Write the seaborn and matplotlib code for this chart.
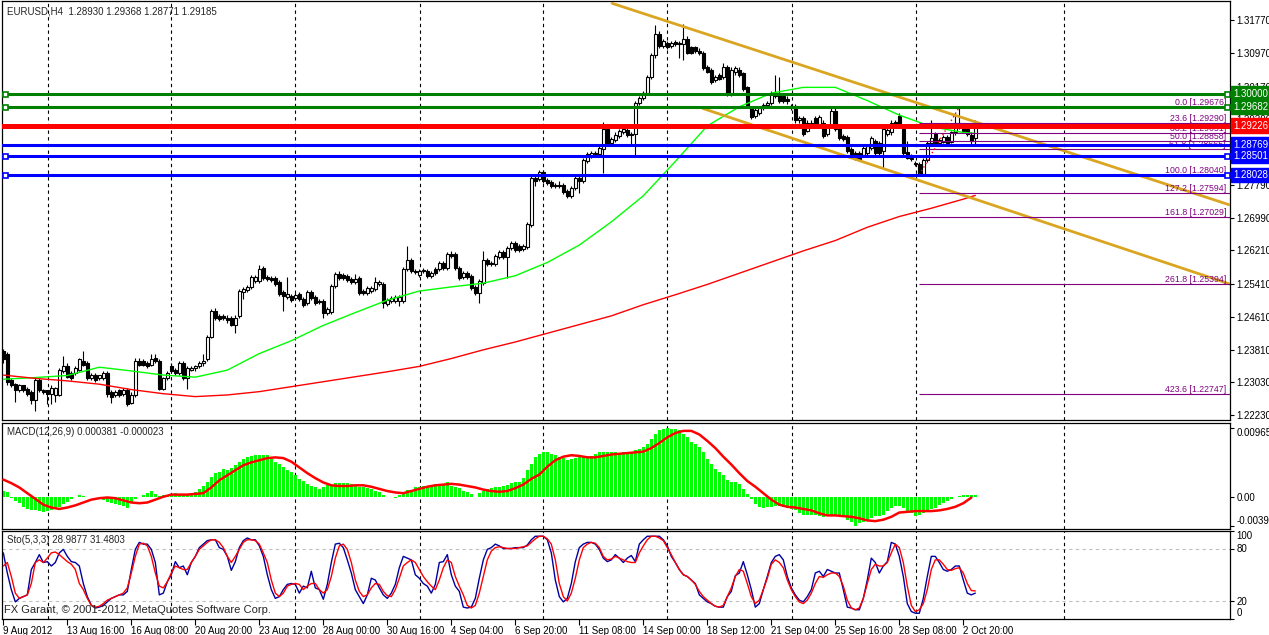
import matplotlib
matplotlib.use("Agg")
import matplotlib.pyplot as plt
import matplotlib.transforms as mtransforms
import numpy as np
import pandas as pd
import seaborn as sns

# ── EURUSD H4 candles, in pips above 1.2000 (price = 1.2 + v / 10000) ────────
opens = [
    377, 370, 307, 299, 285, 295, 287, 278, 261, 307,
    285, 283, 275, 273, 273, 331, 343, 324, 324, 333,
    355, 348, 312, 321, 312, 314, 324, 278, 273, 283,
    275, 285, 253, 273, 355, 353, 348, 345, 362, 353,
    287, 312, 343, 333, 324, 348, 312, 333, 336, 343,
    348, 358, 413, 474, 462, 462, 459, 457, 442, 462,
    520, 525, 532, 547, 547, 578, 556, 554, 554, 544,
    520, 508, 510, 505, 515, 503, 493, 520, 508, 498,
    498, 469, 472, 535, 564, 561, 559, 552, 544, 554,
    522, 518, 522, 527, 539, 539, 491, 498, 498, 498,
    498, 576, 598, 571, 561, 571, 571, 559, 576, 576,
    590, 578, 612, 612, 578, 556, 566, 559, 532, 518,
    542, 598, 590, 588, 605, 617, 605, 627, 639, 632,
    624, 629, 682, 796, 794, 811, 792, 787, 779, 779,
    779, 765, 753, 772, 796, 789, 838, 850, 855, 855,
    867, 915, 881, 889, 898, 908, 913, 903, 903, 978,
    990, 1002, 1041, 1092, 1145, 1114, 1121, 1114, 1124, 1121,
    1119, 1133, 1112, 1112, 1104, 1097, 1063, 1056, 1032, 1044,
    1039, 1063, 1000, 1051, 1058, 1049, 1015, 964, 947, 954,
    966, 973, 978, 995, 1002, 993, 988, 971, 971, 935,
    942, 910, 925, 942, 927, 930, 903, 922, 959, 922,
    898, 896, 867, 857, 857, 852, 857, 869, 886, 881,
    862, 903, 906, 932, 947, 915, 859, 845, 833, 830,
    806, 840, 881, 903, 881, 884, 896, 884, 906, 920,
    922, 915, 901, 893.0,
]
highs = [
    384, 375, 312, 302, 299, 297, 292, 283, 312, 312,
    287, 285, 295, 292, 338, 365, 348, 329, 341, 362,
    377, 353, 326, 324, 321, 329, 329, 283, 285, 287,
    290, 290, 278, 362, 362, 358, 353, 372, 370, 358,
    316, 329, 348, 338, 353, 353, 341, 343, 345, 353,
    372, 418, 479, 481, 467, 467, 464, 462, 464, 527,
    532, 537, 561, 561, 585, 583, 561, 559, 559, 549,
    525, 556, 515, 518, 520, 508, 525, 525, 513, 503,
    503, 484, 539, 568, 571, 566, 564, 556, 564, 559,
    527, 535, 535, 556, 549, 544, 505, 510, 513, 513,
    581, 632, 602, 576, 576, 578, 576, 571, 581, 595,
    595, 617, 619, 617, 583, 571, 571, 564, 537, 552,
    619, 602, 595, 612, 622, 622, 632, 644, 644, 636,
    636, 690, 801, 801, 816, 816, 796, 792, 784, 789,
    784, 770, 777, 801, 801, 845, 859, 862, 862, 874,
    932, 920, 896, 906, 915, 922, 922, 908, 983, 995,
    1007, 1046, 1097, 1165, 1150, 1131, 1126, 1126, 1129, 1126,
    1167, 1138, 1116, 1116, 1109, 1102, 1068, 1061, 1044, 1049,
    1075, 1068, 1063, 1066, 1063, 1053, 1019, 969, 966, 969,
    978, 983, 1005, 1044, 1039, 998, 993, 976, 976, 947,
    947, 935, 935, 947, 949, 935, 927, 964, 964, 927,
    903, 901, 872, 862, 862, 874, 879, 898, 891, 886,
    920, 918, 935, 937, 954, 920, 886, 855, 838, 835,
    845, 886, 935, 908, 893, 901, 901, 910, 952, 967.6,
    927, 920, 906, 936.8,
]
lows = [
    348, 297, 292, 256, 280, 280, 270, 251, 234, 280,
    275, 251, 251, 256, 270, 326, 312, 309, 319, 329,
    341, 307, 307, 304, 307, 309, 268, 253, 268, 268,
    270, 246, 249, 268, 341, 341, 338, 341, 348, 283,
    283, 307, 326, 319, 319, 307, 287, 329, 331, 338,
    343, 353, 409, 452, 450, 452, 447, 438, 421, 457,
    503, 520, 527, 542, 542, 549, 547, 544, 535, 510,
    474, 503, 496, 501, 498, 484, 489, 501, 489, 491,
    457, 464, 467, 530, 549, 549, 544, 539, 539, 513,
    513, 513, 518, 522, 535, 481, 486, 493, 493, 486,
    493, 571, 566, 564, 556, 566, 554, 554, 561, 571,
    573, 573, 602, 573, 549, 552, 552, 525, 513, 493,
    537, 583, 583, 583, 600, 600, 554, 622, 617, 617,
    619, 624, 678, 777, 789, 784, 779, 772, 772, 772,
    758, 748, 748, 767, 760, 784, 833, 845, 850, 850,
    809, 876, 876, 884, 893, 903, 896, 879, 850, 973,
    985, 998, 1036, 1087, 1109, 1109, 1107, 1109, 1114, 1087,
    1080, 1095, 1095, 1097, 1092, 1056, 1049, 1022, 1027, 1032,
    1034, 995, 995, 1046, 1039, 1007, 966, 939, 942, 949,
    961, 969, 973, 990, 978, 978, 976, 961, 930, 930,
    898, 906, 920, 925, 922, 893, 898, 918, 910, 889,
    886, 857, 850, 840, 838, 847, 852, 864, 852, 852,
    821, 898, 901, 920, 918, 852, 842, 838, 825, 804,
    806, 835, 876, 876, 876, 881, 876, 881, 901, 915,
    906, 898, 874, 877.1,
]
closes = [
    358, 304, 297, 283, 295, 285, 275, 261, 307, 285,
    278, 275, 290, 290, 333, 343, 316, 314, 336, 358,
    345, 312, 321, 309, 319, 324, 275, 266, 280, 273,
    285, 251, 273, 353, 345, 345, 343, 360, 353, 287,
    312, 324, 331, 324, 348, 312, 336, 338, 341, 348,
    355, 413, 474, 457, 455, 457, 452, 442, 459, 522,
    527, 532, 556, 556, 576, 554, 552, 549, 539, 515,
    510, 515, 501, 513, 503, 489, 520, 505, 493, 496,
    469, 479, 535, 564, 554, 554, 549, 544, 552, 518,
    518, 530, 530, 544, 544, 493, 501, 505, 508, 508,
    576, 598, 571, 568, 571, 573, 559, 566, 566, 590,
    578, 612, 607, 578, 554, 566, 556, 530, 518, 547,
    598, 588, 588, 607, 617, 605, 627, 639, 622, 622,
    632, 685, 796, 789, 811, 789, 784, 777, 777, 777,
    762, 753, 772, 796, 789, 840, 855, 857, 857, 869,
    915, 881, 891, 901, 910, 915, 901, 901, 978, 990,
    1002, 1041, 1092, 1145, 1114, 1126, 1112, 1121, 1119, 1119,
    1133, 1099, 1099, 1102, 1097, 1061, 1053, 1027, 1039, 1036,
    1063, 1000, 1058, 1061, 1044, 1012, 971, 944, 961, 964,
    973, 978, 1000, 1002, 983, 983, 981, 966, 935, 942,
    903, 930, 930, 930, 944, 898, 922, 959, 915, 893,
    891, 862, 855, 845, 842, 869, 874, 893, 857, 857,
    915, 913, 930, 925, 922, 857, 845, 842, 830, 806,
    840, 881, 893, 881, 889, 896, 881, 906, 930, 930,
    910, 903, 886, 918.5,
]

# moving averages read every 8 bars (pips above 1.2000)
ma_bars = list(range(0, 241, 8)) + [243]
ma_green = [310, 314, 319, 339, 330, 320, 315, 332, 372, 403, 440, 471, 501, 523, 533, 542,
            560, 592, 634, 690, 753, 836, 922, 968, 1001, 1015, 1015, 983, 948, 920, 906, 904]
ma_red = [320, 312, 306, 298, 285, 275, 268, 272, 280, 292, 304, 316, 328, 341, 360, 381,
          400, 421, 442, 463, 490, 514, 539, 566, 593, 620, 645, 677, 703, 723, 745, 754]

# descending channel (bar, pips above 1.2000)
upper_trend_bars = [152.2, 306.6]
upper_trend_pips = [1218, 731]
lower_trend_bars = [174.9, 306.6]
lower_trend_pips = [964, 540]

# horizontal line objects
hline_prices = [1.30000, 1.29682, 1.29226, 1.28769, 1.28501, 1.28028]
hline_colors = ["#008000", "#008000", "#FF0000", "#0000FF", "#0000FF", "#0000FF"]
hline_widths = [2.2, 2.2, 3.6, 2.2, 2.2, 2.2]
hline_marked = [True, True, False, False, True, True]

# fibonacci retracement
fib_levels = [0.0, 23.6, 38.2, 50.0, 61.8, 100.0, 127.2, 161.8, 261.8, 423.6]
fib_prices = [1.29676, 1.29290, 1.29051, 1.28858, 1.28665, 1.28040, 1.27594, 1.27029, 1.25394, 1.22747]
fib_anchor_bars = [229, 239]

price_ticks = [1.31770, 1.30970, 1.30170, 1.29390, 1.28590, 1.27790, 1.26990,
               1.26210, 1.25410, 1.24610, 1.23810, 1.23030, 1.22230]
hidden_price_ticks = [1.28590]  # covered by the line labels in the terminal

date_ticks = list(range(0, 241, 16))
date_labels = ["9 Aug 2012", "13 Aug 16:00", "16 Aug 08:00", "20 Aug 20:00", "23 Aug 12:00",
               "28 Aug 00:00", "30 Aug 16:00", "4 Sep 04:00", "6 Sep 20:00", "11 Sep 08:00",
               "14 Sep 00:00", "18 Sep 12:00", "21 Sep 04:00", "25 Sep 16:00", "28 Sep 08:00",
               "2 Oct 20:00"]
grid_bars = [11.1, 42.0, 73.0, 104.2, 134.9, 166.0, 197.2, 228.1, 265.2]

# MACD(12,26,9), units of 1e-4
macd_hist = [
    9, 7, -1, -5, -8, -13, -16, -17, -18, -19, -20, -19, -17, -16, -13, -9, -6, -2, 0, 3,
    2, 1, 1, 0, -1, -4, -6, -8, -9, -11, -12, -14, -8, -2, 1, 3, 6, 9, 5, 2,
    3, 3, 4, 6, 5, 5, 5, 6, 8, 12, 16,
    21, 29, 34, 36, 40, 38, 41, 45, 49, 54, 56, 58, 59, 60, 60, 59, 54, 49, 47, 42,
    39, 35, 31, 26, 23, 19, 16, 15, 12, 15, 17, 16, 20, 20, 20, 20, 19, 17, 15, 14,
    13, 12, 9, 7, 4, 1, 0, -1, 3, 8, 10,
    11, 14, 15, 16, 16, 17, 19, 19, 18, 21, 16, 14, 13, 9, 8, 5, 1, 6, 9, 12,
    13, 14, 15, 16, 18, 20, 21, 22, 27, 38, 47, 56, 61, 63, 63, 61, 59, 56, 55, 53,
    54, 55, 56, 56, 58, 58, 61, 63, 63, 63, 63, 63, 62, 63, 63,
    63, 66, 68, 71, 74, 81, 89, 94, 96, 96.5, 96, 95, 94, 88, 85, 78, 74, 71, 63, 54,
    47, 40, 35, 31, 25, 22, 21, 19, 12, 5, -2, -9, -13, -14, -13, -13, -12, -12, -13, -14,
    -16, -18, -21, -24, -24, -24, -25, -26, -27, -26, -25, -26, -26, -27, -31, -34, -39.6, -35, -34, -31,
    -28, -26, -26, -24, -19, -14, -12, -12, -14, -19, -22, -26, -25, -22, -19, -16, -14, -11, -8, -5,
    -2, 0, 2, 3, 4, 3, 3.81,
]
macd_signal = [  # every 2 bars
    25, 20, 14, 6, -2, -10, -14, -16, -14, -11, -7, -3, -1, 0, -1, -4, -7, -8, -7, -3,
    1, 4, 4, 4, 5, 6, 14, 24, 31, 38, 45, 49, 52, 55, 56, 55, 50, 42, 34, 27,
    21, 17, 16, 16, 17, 17, 15, 12, 9, 7, 6, 9, 12, 15, 17, 18, 19, 18, 16, 14,
    11, 9, 8, 9, 13, 18, 26, 32, 43, 52, 57, 59, 58, 56, 56, 58, 60, 61, 62, 63,
    64, 69, 76, 84, 90, 93, 93, 88, 79, 69, 57, 46, 34, 23, 15, 6, -3, -10, -13, -14,
    -16, -18, -22, -25, -25, -26, -27, -29, -32, -33, -31, -27, -21, -20, -19, -19, -19, -18, -16, -13,
    -8, -0.2,
]

# Stochastic(5,3,3)
sto_k = [
    75, 52, 33, 19, 23, 25, 27, 56, 64, 73, 64, 65, 60, 64, 75, 79, 71, 65, 64, 60,
    40, 25, 15, 12, 13, 15, 19, 23, 25, 27, 27, 31, 56, 79, 87, 85, 85, 79, 64, 27,
    29, 42, 50, 65, 58, 60, 50, 64, 71, 81, 85,
    89, 90, 90, 81, 79, 71, 55, 65, 81, 89, 92, 90, 90, 83, 71, 50, 33, 23, 25, 33,
    39, 40, 39, 29, 37, 35, 54, 35, 33, 22, 39, 64, 85, 86, 81, 67, 52, 33, 25, 17,
    27, 46, 44, 35, 27, 23, 29, 39, 58, 71, 69,
    67, 50, 46, 40, 37, 29, 39, 64, 65, 73, 50, 37, 31, 13, 12, 13, 23, 46, 67, 79,
    81, 85, 83, 80, 80, 80, 81, 81, 81, 84, 90, 94, 94, 94, 90, 75, 44, 25, 19, 23,
    40, 65, 81, 85, 87, 87, 85, 79, 69, 65, 67, 73, 69, 64, 69, 72,
    65, 85, 90, 94, 94, 94, 94, 90, 83, 71, 64, 56, 50, 48, 44, 40, 27, 23, 19, 17,
    14, 13, 13, 25, 31, 49, 52, 65, 50, 33, 13, 17, 33, 48, 64, 71, 73, 67, 48, 35,
    27, 21, 19, 25, 33, 52, 54, 48, 56, 54, 52, 52, 33, 13, 12, 10, 10, 23, 44, 69,
    64, 52, 60, 65, 87, 85, 71, 48, 17, 8, 6, 6, 23, 48, 71, 71, 64, 56, 54, 56,
    60, 60, 44, 29, 27, 28.99,
]
sto_d = [
    60, 64, 48, 29, 23, 25, 27, 40, 64, 67, 64, 69, 75, 76, 73, 69, 65, 62, 56, 40,
    33, 23, 15, 13, 14, 17, 21, 23, 25, 27, 29, 35, 52, 71, 85, 86, 83, 71, 52, 37,
    35, 42, 52, 60, 58, 56, 56, 64, 71, 79, 83,
    87, 90, 90, 87, 81, 71, 64, 71, 79, 87, 90, 90, 89, 85, 75, 64, 44, 29, 25, 29,
    37, 39, 40, 39, 33, 37, 40, 40, 33, 29, 33, 48, 69, 83, 85, 79, 64, 44, 31, 25,
    27, 35, 40, 39, 31, 26, 25, 33, 46, 60, 64,
    67, 64, 56, 48, 42, 37, 33, 44, 58, 67, 64, 48, 37, 27, 15, 12, 15, 29, 48, 67,
    77, 81, 82, 81, 80, 80, 80, 81, 82, 83, 87, 91, 94, 94, 91, 85, 67, 40, 25, 20,
    29, 46, 67, 81, 85, 87, 86, 81, 71, 67, 68, 71, 69, 67, 65, 64,
    64, 75, 83, 90, 94, 94, 92, 89, 81, 73, 64, 56, 50, 48, 44, 39, 31, 25, 21, 17,
    14, 13, 15, 25, 35, 48, 56, 54, 40, 25, 17, 21, 33, 46, 62, 67, 64, 58, 44, 33,
    25, 19, 17, 21, 29, 40, 48, 47, 50, 52, 52, 48, 37, 21, 12, 10, 12, 23, 40, 56,
    62, 60, 60, 64, 75, 85, 81, 64, 37, 15, 8, 10, 17, 33, 56, 67, 67, 62, 56, 55,
    57, 58, 52, 40, 32, 31.48,
]


def to_price(pips):
    return 1.2 + np.asarray(pips, dtype=float) * 1e-4


sns.set_style("white")
plt.rcParams["font.family"] = ["Liberation Sans", "DejaVu Sans"]
plt.rcParams["font.size"] = 7

W, H = 1269, 635
fig = plt.figure(figsize=(W / 100, H / 100), dpi=100)


def panel(top, bottom, left=2.0, right=1229.5):
    return fig.add_axes([left / W, 1 - bottom / H, (right - left) / W, (bottom - top) / H])


ax = panel(0.5, 420)
ax_macd = panel(422.5, 528.5)
ax_sto = panel(531, 618.5)
XLIM = (-0.33, 306.55)

bars = np.arange(len(closes))
o, hi, lo, c = (to_price(v) for v in (opens, highs, lows, closes))

# ── main price panel ────────────────────────────────────────────────────────
ax.vlines(bars, lo, hi, color="black", lw=0.8, zorder=3)
up = c >= o
body_bottom = np.minimum(o, c)
body_h = np.maximum(np.abs(c - o), 0.5e-4)
ax.bar(bars[up], body_h[up], bottom=body_bottom[up], width=0.62, color="white",
       edgecolor="black", linewidth=0.8, zorder=4)
ax.bar(bars[~up], body_h[~up], bottom=body_bottom[~up], width=0.62, color="black",
       edgecolor="black", linewidth=0.8, zorder=4)

ma = pd.DataFrame({"bar": ma_bars, "green": to_price(ma_green), "red": to_price(ma_red)})
sns.lineplot(data=ma, x="bar", y="green", color="#00FF00", lw=1, ax=ax, zorder=5)
sns.lineplot(data=ma, x="bar", y="red", color="#FF0000", lw=1, ax=ax, zorder=5)

ax.plot(upper_trend_bars, to_price(upper_trend_pips), color="#DAA520", lw=2, zorder=6)
ax.plot(lower_trend_bars, to_price(lower_trend_pips), color="#DAA520", lw=2, zorder=6)

ax.hlines(fib_prices, fib_anchor_bars[0], XLIM[1], color="#800080", lw=0.8, zorder=6)
for lvl, p in zip(fib_levels, fib_prices):
    ax.text(305.7, p, f"{lvl:.1f} [{p:.5f}]", ha="right", va="bottom", fontsize=6.3,
            color="#800080", zorder=6)
ax.plot(fib_anchor_bars, [fib_prices[5], fib_prices[0]], color="red", ls=(0, (1, 2)),
        lw=1, zorder=6)

trans = mtransforms.blended_transform_factory(ax.transAxes, ax.transData)
for p, col, w, marked in zip(hline_prices, hline_colors, hline_widths, hline_marked):
    ax.axhline(p, color=col, lw=w, zorder=7)
    if marked:
        ax.plot([0.43, 305.9], [p, p], ls="none", marker="s", ms=3.6, mfc="white",
                mec=col, mew=1.2, zorder=8)
    ax.text(1.0 + 3.5 / 1227.5, p, f"{p:.5f}", transform=trans, ha="left", va="center",
            fontsize=7, color="white", zorder=10, clip_on=False,
            bbox=dict(boxstyle="square,pad=0.22", fc=col, ec=col))

ax.set_ylim(1.22115, 1.32248)
ax.set_yticks(price_ticks)
ax.set_yticklabels(["" if t in hidden_price_ticks else f"{t:.5f}" for t in price_ticks])

# ── MACD panel ──────────────────────────────────────────────────────────────
ax_macd.bar(bars, np.asarray(macd_hist) * 1e-4, width=0.66, color="#00FF00", lw=0, zorder=2)
sns.lineplot(x=np.arange(0, 2 * len(macd_signal), 2), y=np.asarray(macd_signal) * 1e-4,
             color="#FF0000", lw=1.8, ax=ax_macd, zorder=3)
ax_macd.set_ylim(-0.00433, 0.01047)
ax_macd.set_yticks([0.009654, 0.0, -0.00396])
ax_macd.set_yticklabels(["0.009654", "0.00", "-0.003960"])

# ── Stochastic panel ────────────────────────────────────────────────────────
for lvl in (20, 80):
    ax_sto.axhline(lvl, color="#C0C0C0", ls=(0, (3, 3)), lw=0.8, zorder=1)
sns.lineplot(x=bars, y=sto_k, color="#0000A0", lw=1, ax=ax_sto, zorder=3)
sns.lineplot(x=bars, y=sto_d, color="#FF0000", lw=1, ax=ax_sto, zorder=3)
ax_sto.set_ylim(0, 100)
ax_sto.set_yticks([0, 20, 80, 100])
ax_sto.set_yticklabels(["0", "20", "80", "100"])

for a in (ax, ax_macd, ax_sto):
    a.set_xlim(*XLIM)
    a.set_xlabel("")
    a.set_ylabel("")
    for s in a.spines.values():
        s.set_color("black")
        s.set_linewidth(0.9)
    for g in grid_bars:
        a.axvline(g, color="black", lw=0.8, ls=(0, (3, 3)), zorder=1)
    a.yaxis.tick_right()
    a.tick_params(axis="y", right=True, left=False, labelright=True, labelleft=False,
                  direction="out", length=3, width=0.8, pad=2, labelsize=7, colors="black")
    a.tick_params(axis="x", bottom=False, labelbottom=False)

ylabels = ax_macd.get_yticklabels()
ylabels[0].set_va("top")
ylabels[2].set_va("bottom")
ylabels = ax_sto.get_yticklabels()
ylabels[0].set_va("bottom")
ylabels[3].set_va("top")

ax_sto.set_xticks(date_ticks)
ax_sto.set_xticklabels(date_labels)
ax_sto.tick_params(axis="x", bottom=True, labelbottom=True, direction="out", length=4,
                   width=0.8, pad=1.5, labelsize=7, colors="black")
for t in ax_sto.get_xticklabels():
    t.set_ha("left")

# ── headers ─────────────────────────────────────────────────────────────────
fig.text(7 / W, 1 - 11 / H, "EURUSD,H4  1.28930 1.29368 1.28771 1.29185", va="center",
         fontsize=7)
fig.text(7 / W, 1 - 432 / H, "MACD(12,26,9) 0.000381 -0.000023", va="center", fontsize=7)
fig.text(7 / W, 1 - 540 / H, "Sto(5,3,3) 28.9877 31.4803", va="center", fontsize=7)
fig.text(4 / W, 1 - 610 / H, "FX Garant, © 2001-2012, MetaQuotes Software Corp.",
         va="center", fontsize=8)

fig.savefig("out.png", dpi=100)
